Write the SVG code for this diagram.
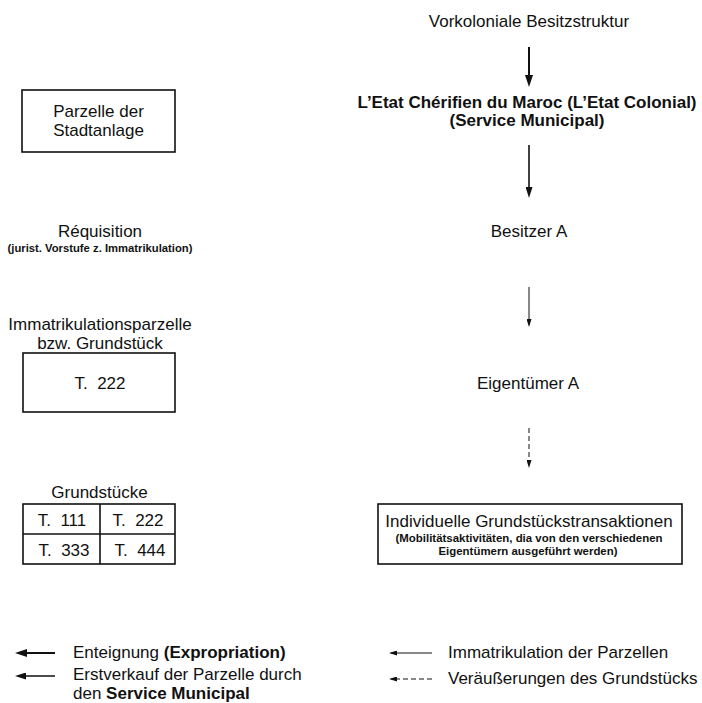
<svg xmlns="http://www.w3.org/2000/svg" width="702" height="703" viewBox="0 0 702 703">
<style>
text{font-family:"Liberation Sans",Arial,Helvetica,sans-serif;fill:#111;}
.t{font-size:17px;}
.b{font-weight:bold;}
.s{font-size:11px;font-weight:bold;}
.c{text-anchor:middle;}
.box{fill:none;stroke:#111;stroke-width:1.6;}
.ln{fill:none;stroke:#111;}
</style>
<defs>
<marker id="ah-heavy" markerUnits="userSpaceOnUse" viewBox="0 0 12 8" markerWidth="12" markerHeight="8" refX="9" refY="4" orient="auto"><path d="M0,0 L12,4 L0,8 Z" fill="#111"/></marker>
<marker id="ah-mid" markerUnits="userSpaceOnUse" viewBox="0 0 11 7" markerWidth="11" markerHeight="7" refX="8" refY="3.5" orient="auto"><path d="M0,0 L11,3.5 L0,7 Z" fill="#111"/></marker>
<marker id="ah-thin" markerUnits="userSpaceOnUse" viewBox="0 0 8 5" markerWidth="8" markerHeight="5" refX="6" refY="2.5" orient="auto"><path d="M0,0 L8,2.5 L0,5 Z" fill="#111"/></marker>
</defs>

<!-- left column -->
<g id="parzelle">
<rect class="box" x="22" y="90" width="153" height="62"/>
<text class="t c" x="98.5" y="117">Parzelle der</text>
<text class="t c" x="98.5" y="136">Stadtanlage</text>
</g>
<g id="requisition">
<text class="t c" x="100" y="237">Réquisition</text>
<text class="s c" x="100" y="252" textLength="185" lengthAdjust="spacingAndGlyphs">(jurist. Vorstufe z. Immatrikulation)</text>
</g>
<g id="immatrikulationsparzelle">
<text class="t c" x="100" y="330">Immatrikulationsparzelle</text>
<text class="t c" x="100" y="349">bzw. Grundstück</text>
<rect class="box" x="23" y="353" width="152" height="59"/>
<text class="t c" x="100" y="389">T.&#160; 222</text>
</g>
<g id="grundstuecke">
<text class="t c" x="99.5" y="498">Grundstücke</text>
<rect class="box" x="23" y="504" width="152" height="60"/>
<line class="ln" stroke-width="1.6" x1="23" y1="534" x2="175" y2="534"/>
<line class="ln" stroke-width="1.6" x1="100" y1="504" x2="100" y2="564"/>
<text class="t c" x="62" y="526">T.&#160; 111</text>
<text class="t c" x="138" y="526">T.&#160; 222</text>
<text class="t c" x="64" y="556">T.&#160; 333</text>
<text class="t c" x="140" y="556">T.&#160; 444</text>
</g>

<!-- right column -->
<g id="vorkolonial">
<text class="t c" x="529" y="26.5">Vorkoloniale Besitzstruktur</text>
</g>
<g id="etat">
<text class="t b c" x="527" y="108">L’Etat Chérifien du Maroc (L’Etat Colonial)</text>
<text class="t b c" x="527" y="126">(Service Municipal)</text>
</g>
<g id="besitzer">
<text class="t c" x="529" y="237">Besitzer A</text>
</g>
<g id="eigentuemer">
<text class="t c" x="528" y="389">Eigentümer A</text>
</g>
<g id="transaktionen">
<rect class="box" x="378" y="504" width="304" height="60"/>
<text class="t c" x="529" y="527">Individuelle Grundstückstransaktionen</text>
<text class="s c" x="529" y="542" font-size="10.5" textLength="267" lengthAdjust="spacingAndGlyphs">(Mobilitätsaktivitäten, dia von den verschiedenen</text>
<text class="s c" x="528" y="555" font-size="10.5" textLength="179" lengthAdjust="spacingAndGlyphs">Eigentümern ausgeführt werden)</text>
</g>

<!-- connectors -->
<g id="connectors">
<line class="ln" stroke-width="2" x1="529" y1="47" x2="529" y2="84" marker-end="url(#ah-heavy)"/>
<line class="ln" stroke-width="1.6" x1="529" y1="145" x2="529" y2="195" marker-end="url(#ah-mid)"/>
<line class="ln" stroke-width="1" x1="529" y1="287" x2="529" y2="325" marker-end="url(#ah-thin)"/>
<line class="ln" stroke-width="1" stroke-dasharray="5,3" x1="529" y1="428" x2="529" y2="466" marker-end="url(#ah-thin)"/>
</g>

<!-- legend -->
<g id="legend">
<line class="ln" stroke-width="2" x1="55" y1="653" x2="18" y2="653" marker-end="url(#ah-heavy)"/>
<text class="t" x="73" y="658">Enteignung <tspan class="b">(Expropriation)</tspan></text>
<line class="ln" stroke-width="1.6" x1="55" y1="676" x2="18" y2="676" marker-end="url(#ah-mid)"/>
<text class="t" x="73" y="680" font-size="15.5">Erstverkauf der Parzelle durch</text>
<text class="t" x="73" y="699" font-size="15.5">den <tspan class="b">Service Municipal</tspan></text>
<line class="ln" stroke-width="1" x1="432" y1="653" x2="391" y2="653" marker-end="url(#ah-thin)"/>
<text class="t" x="448" y="658">Immatrikulation der Parzellen</text>
<line class="ln" stroke-width="1" stroke-dasharray="5,3" x1="432" y1="679" x2="391" y2="679" marker-end="url(#ah-thin)"/>
<text class="t" x="448" y="684">Veräußerungen des Grundstücks</text>
</g>
</svg>
